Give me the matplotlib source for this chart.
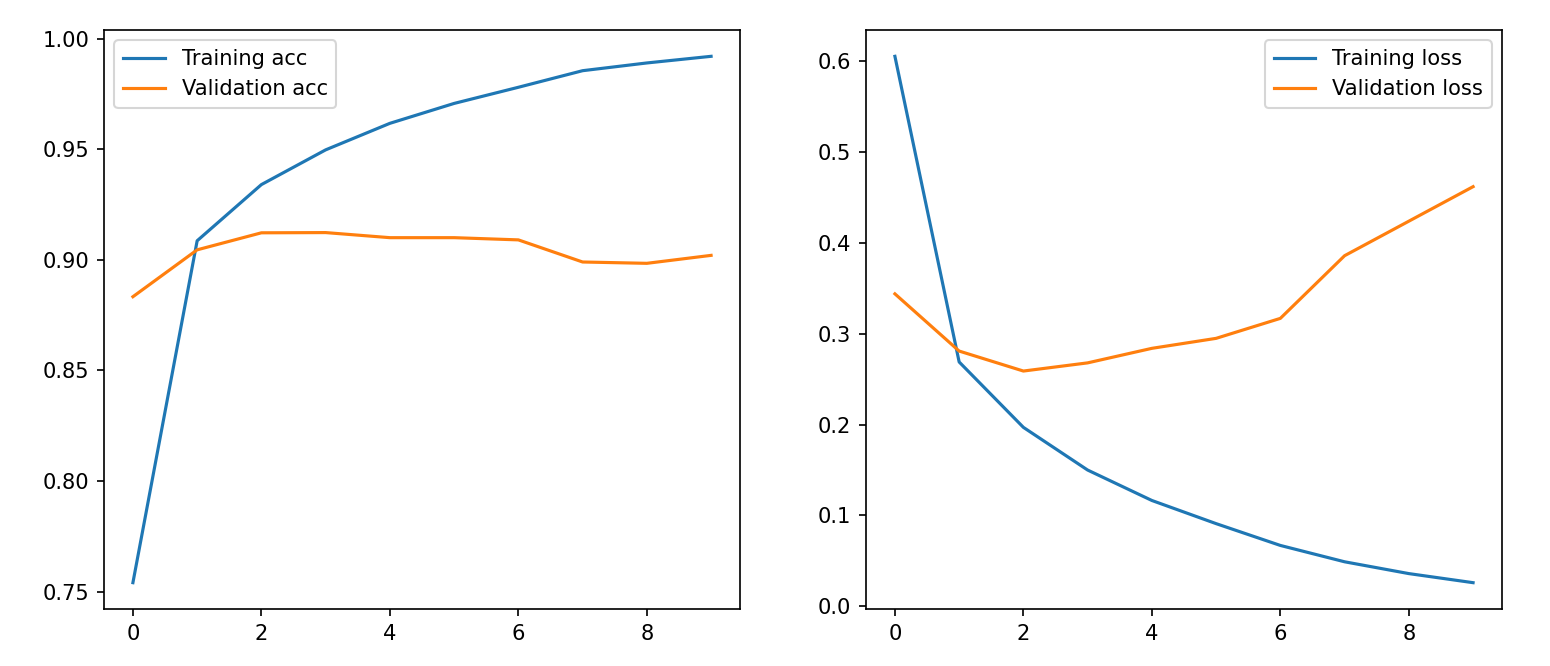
import numpy as np
import matplotlib
matplotlib.use("Agg")
import matplotlib.pyplot as plt

epochs = list(range(10))
acc = [0.754, 0.9086, 0.934, 0.9497, 0.9617, 0.9707, 0.978, 0.9855, 0.989, 0.992]
val_acc = [0.8833, 0.9045, 0.9122, 0.9123, 0.910, 0.910, 0.909, 0.899, 0.8984, 0.902]
loss = [0.6055, 0.269, 0.197, 0.150, 0.1165, 0.091, 0.067, 0.049, 0.036, 0.026]
val_loss = [0.344, 0.281, 0.259, 0.268, 0.284, 0.295, 0.317, 0.386, 0.424, 0.462]

dpi = 151
fig = plt.figure(figsize=(1550 / dpi, 666 / dpi), dpi=dpi)

# left: accuracy
ax1 = fig.add_axes([104 / 1550, 1 - 609 / 666, 636 / 1550, 579 / 666])
ax1.plot(epochs, acc, label='Training acc')
ax1.plot(epochs, val_acc, label='Validation acc')
ax1.legend(loc='upper left')

# right: loss
ax2 = fig.add_axes([866 / 1550, 1 - 609 / 666, 636 / 1550, 579 / 666])
ax2.plot(epochs, loss, label='Training loss')
ax2.plot(epochs, val_loss, label='Validation loss')
ax2.legend(loc='upper right')

fig.savefig('out.png', dpi=dpi)
